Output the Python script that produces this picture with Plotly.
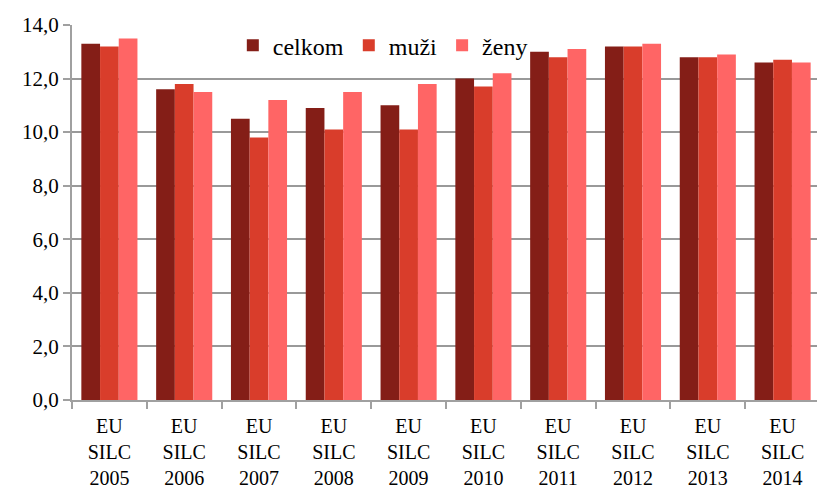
import plotly.graph_objects as go

categories = ["EU<br>SILC<br>2005", "EU<br>SILC<br>2006", "EU<br>SILC<br>2007", "EU<br>SILC<br>2008",
              "EU<br>SILC<br>2009", "EU<br>SILC<br>2010", "EU<br>SILC<br>2011", "EU<br>SILC<br>2012",
              "EU<br>SILC<br>2013", "EU<br>SILC<br>2014"]
celkom = [13.3, 11.6, 10.5, 10.9, 11.0, 12.0, 13.0, 13.2, 12.8, 12.6]
muzi = [13.2, 11.8, 9.8, 10.1, 10.1, 11.7, 12.8, 13.2, 12.8, 12.7]
zeny = [13.5, 11.5, 11.2, 11.5, 11.8, 12.2, 13.1, 13.3, 12.9, 12.6]
y_ticks = [0, 2, 4, 6, 8, 10, 12, 14]

series = [("celkom", celkom, "#841E17"), ("muži", muzi, "#D93D2B"), ("ženy", zeny, "#FF6565")]

fig = go.Figure()
for name, vals, col in series:
    fig.add_trace(go.Bar(x=categories, y=vals, name=name, marker_color=col,
                         marker_line_width=0))

font = "Liberation Serif"
fig.update_layout(
    width=817, height=487,
    margin=dict(l=64, r=5, t=17, b=95),
    paper_bgcolor="white", plot_bgcolor="white",
    separators=", ",
    barmode="group", bargap=0.25, bargroupgap=0.0,
    font=dict(family=font, size=20, color="black"),
    legend=dict(orientation="h", x=0.215, y=1.005, xanchor="left", yanchor="top",
                font=dict(family=font, size=24, color="black"), bgcolor="rgba(0,0,0,0)",
                itemwidth=30, traceorder="normal"),
    xaxis=dict(showline=True, linecolor="#A0A0A0", linewidth=2, ticks="outside",
               tickson="boundaries", ticklen=7, tickcolor="#A0A0A0", tickwidth=2,
               ticklabelstandoff=7, automargin=False,
               tickfont=dict(family=font, size=20, color="black"), showgrid=False),
    yaxis=dict(range=[0, 14], tickvals=y_ticks, tickformat=".1f", showline=True,
               linecolor="#A0A0A0", linewidth=2, ticks="outside", ticklen=7,
               tickcolor="#A0A0A0", tickwidth=2, showgrid=True, gridcolor="#999999",
               gridwidth=2, automargin=False,
               tickfont=dict(family=font, size=21, color="black"), zeroline=False),
)
fig.write_html("out.html")
